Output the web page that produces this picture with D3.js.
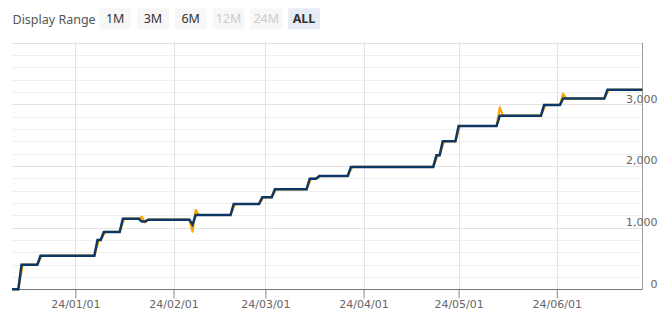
<!DOCTYPE html>
<html>
<head>
<meta charset="utf-8">
<script src="https://cdn.jsdelivr.net/npm/d3@7"></script>
<style>
  html, body { margin: 0; padding: 0; background: #fff; }
  svg { display: block; }
</style>
</head>
<body>
<svg id="chart" width="667" height="317"></svg>
<script>
// ---------- DATA ----------
const rangeButtons = ["1M", "3M", "6M", "12M", "24M", "ALL"];
const rangeDisabled = [false, false, false, true, true, false];
const rangeActive = "ALL";

const navyDates = ["2023-12-12","2023-12-14","2023-12-15","2023-12-20","2023-12-21","2024-01-07","2024-01-08","2024-01-09","2024-01-10","2024-01-15","2024-01-16","2024-01-21","2024-01-22","2024-01-23","2024-01-24","2024-02-06","2024-02-07","2024-02-08","2024-02-19","2024-02-20","2024-02-28","2024-02-29","2024-03-03","2024-03-04","2024-03-14","2024-03-15","2024-03-17","2024-03-18","2024-03-27","2024-03-28","2024-04-23","2024-04-24","2024-04-25","2024-04-26","2024-04-30","2024-05-01","2024-05-13","2024-05-14","2024-05-27","2024-05-28","2024-06-02","2024-06-03","2024-06-16","2024-06-17","2024-06-28"];
const navyValues = [0,0,400,400,545,545,800,800,930,930,1145,1145,1100,1100,1130,1130,1048,1205,1205,1384,1384,1492,1492,1622,1622,1794,1794,1838,1838,1985,1985,2173,2173,2400,2400,2649,2649,2816,2816,2990,2990,3094,3094,3235,3235];

const orangeDates = ["2023-12-12","2023-12-14","2023-12-15T10:00","2023-12-20","2023-12-21T10:00","2024-01-07","2024-01-08T10:00","2024-01-09","2024-01-10T10:00","2024-01-15","2024-01-16T10:00","2024-01-21","2024-01-22","2024-01-23","2024-01-24","2024-02-06","2024-02-07","2024-02-08","2024-02-09","2024-02-19","2024-02-20T10:00","2024-02-28","2024-02-29T10:00","2024-03-03","2024-03-04T10:00","2024-03-14","2024-03-15T10:00","2024-03-17","2024-03-18T10:00","2024-03-27","2024-03-28T10:00","2024-04-23","2024-04-24T10:00","2024-04-25","2024-04-26T10:00","2024-04-30","2024-05-01T10:00","2024-05-13","2024-05-14","2024-05-15","2024-05-27","2024-05-28T10:00","2024-06-02","2024-06-03","2024-06-04","2024-06-16","2024-06-17T10:00","2024-06-28"];
const orangeValues = [0,0,400,400,545,545,800,800,930,930,1145,1145,1175,1085,1130,1130,935,1290,1205,1205,1384,1384,1492,1492,1622,1622,1794,1794,1838,1838,1985,1985,2173,2173,2400,2400,2649,2649,2950,2816,2816,2990,2990,3170,3094,3094,3235,3235];

const xTickDates = ["2024-01-01","2024-02-01","2024-03-01","2024-04-01","2024-05-01","2024-06-01"];
const xTickLabels = ["24/01/01","24/02/01","24/03/01","24/04/01","24/05/01","24/06/01"];
const yMajorTicks = [0, 1000, 2000, 3000];
const yTickLabels = ["0", "1,000", "2,000", "3,000"];
const yDomain = [0, 4000];
const xDomain = ["2023-12-12", "2024-06-28"];

// ---------- SETUP ----------
const parse = s => new Date(s.length > 10 ? s : s + "T00:00");
const svg = d3.select("#chart");
const font = "'DejaVu Sans', sans-serif";
const uiFont = "'Noto Sans', 'Open Sans', sans-serif";

const plot = { left: 12, right: 642.3, top: 42.7, bottom: 289.3 };

const x = d3.scaleTime().domain(xDomain.map(parse)).range([plot.left, plot.right]);
const y = d3.scaleLinear().domain(yDomain).range([plot.bottom, plot.top]);

// ---------- RANGE SELECTOR ----------
svg.append("text")
  .attr("x", 12.5).attr("y", 23.5)
  .attr("font-family", uiFont).attr("font-size", 12.5)
  .attr("fill", "#555")
  .text("Display Range");

const bx = d3.scaleBand().domain(rangeButtons).range([99.3, 99.3 + 36.9 * 6]).paddingInner(0.14).paddingOuter(0);
const btn = svg.append("g").selectAll("g").data(rangeButtons).join("g")
  .attr("transform", d => `translate(${bx(d)},8.3)`);
btn.append("rect")
  .attr("width", 31.7).attr("height", 21).attr("rx", 1)
  .attr("fill", d => d === rangeActive ? "#e6ebf5" : "#f7f7f7");
btn.append("text")
  .attr("x", 15.85).attr("y", 15)
  .attr("text-anchor", "middle")
  .attr("font-family", uiFont).attr("font-size", 12.5)
  .attr("font-weight", d => d === rangeActive ? "bold" : "normal")
  .attr("fill", (d, i) => rangeDisabled[i] ? "#cccccc" : "#333")
  .text(d => d);

// ---------- GRID ----------
const minorTicks = d3.range(yDomain[0], yDomain[1] + 1, 200);
svg.append("g").selectAll("line").data(minorTicks).join("line")
  .attr("x1", plot.left).attr("x2", plot.right)
  .attr("y1", d => Math.round(y(d)) + 0.5).attr("y2", d => Math.round(y(d)) + 0.5)
  .attr("stroke", d => d % 1000 === 0 ? "#e2e2e2" : "#efefef")
  .attr("stroke-width", 1);

svg.append("g").selectAll("line").data(xTickDates).join("line")
  .attr("x1", d => Math.round(x(parse(d))) + 0.5).attr("x2", d => Math.round(x(parse(d))) + 0.5)
  .attr("y1", plot.top).attr("y2", plot.bottom)
  .attr("stroke", "#e2e2e2");

// ---------- AXES ----------
const xAxis = d3.axisBottom(x)
  .tickValues(xTickDates.map(parse))
  .tickFormat((d, i) => xTickLabels[i])
  .tickSize(9).tickSizeOuter(0).tickPadding(2);
const gx = svg.append("g").attr("transform", `translate(0,${Math.round(plot.bottom) + 0.5})`).call(xAxis);
gx.select(".domain").attr("stroke", "#777").attr("d", `M${plot.left},0H${plot.right}`);
gx.selectAll(".tick line").attr("stroke", "#888");
gx.selectAll(".tick text").attr("font-family", font).attr("font-size", 11).attr("fill", "#666");

const yAxis = d3.axisRight(y)
  .tickValues(yMajorTicks)
  .tickFormat((d, i) => yTickLabels[i])
  .tickSize(0).tickSizeOuter(0);
const gy = svg.append("g").attr("transform", `translate(${Math.round(plot.right) + 0.5},0)`).call(yAxis);
gy.select(".domain").attr("stroke", "#999").attr("d", `M0,${plot.top}V${plot.bottom}`);
gy.selectAll(".tick text")
  .attr("font-family", font).attr("font-size", 11).attr("fill", "#666")
  .attr("text-anchor", "end").attr("x", 15).attr("dy", "-0.2em");

// ---------- LINES ----------
const line = d3.line().x(d => x(d.date)).y(d => y(d.value));
const orange = orangeDates.map((d, i) => ({ date: parse(d), value: orangeValues[i] }));
const navy = navyDates.map((d, i) => ({ date: parse(d), value: navyValues[i] }));

svg.append("path").datum(orange)
  .attr("d", line).attr("fill", "none")
  .attr("stroke", "#f7a600").attr("stroke-width", 2.2)
  .attr("stroke-linejoin", "round");
svg.append("path").datum(navy)
  .attr("d", line).attr("fill", "none")
  .attr("stroke", "#0d3866").attr("stroke-width", 2.5)
  .attr("stroke-linejoin", "miter");
</script>
</body>
</html>
